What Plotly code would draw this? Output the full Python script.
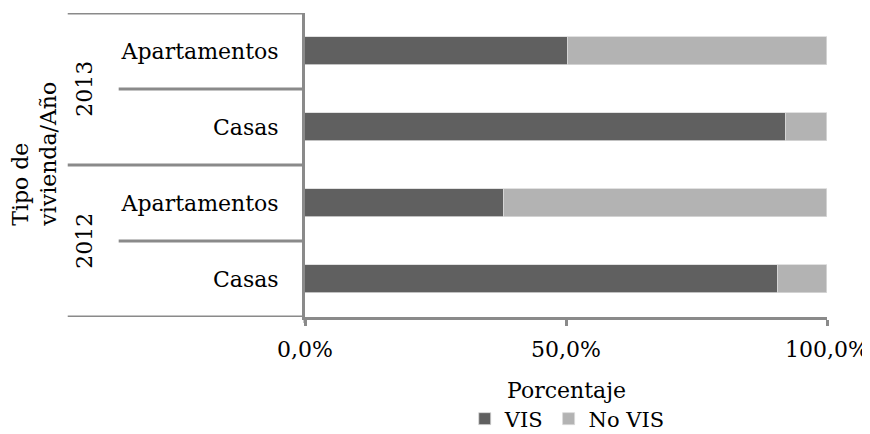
import plotly.graph_objects as go

years = ["2012", "2012", "2013", "2013"]
tipos = ["Casas", "Apartamentos", "Casas", "Apartamentos"]
vis = [0.906, 0.382, 0.922, 0.504]
no_vis = [round(1 - v, 3) for v in vis]
xticks = [0, 0.5, 1.0]

FONT = "DejaVu Serif"
FS = 22
GREY = "#8a8a8a"
pos = list(range(len(tipos)))

fig = go.Figure()
fig.add_trace(go.Bar(y=pos, x=vis, orientation="h", name="VIS",
                     marker=dict(color="#606060", line=dict(color="#d9d9d9", width=0.8)),
                     width=0.38))
fig.add_trace(go.Bar(y=pos, x=no_vis, orientation="h", name="No VIS",
                     marker=dict(color="#b3b3b3", line=dict(color="#d9d9d9", width=0.8)),
                     width=0.38))

OFF = 8  # page body margin
W, H = 870 - OFF, 434 - OFF
ml, mr, mt, mb = 304.5 - OFF, 43, 13 - OFF, H - (317 - OFF)
pw = W - ml - mr
ph = H - mt - mb

def px2paper(px):
    return (px - OFF - ml) / pw

def py2paper(py):
    return (H - mb - (py - OFF)) / ph

shapes = []
for yv, xs in [(3.5, 67), (1.5, 67), (-0.5, 67), (2.5, 118), (0.5, 118)]:
    shapes.append(dict(type="line", xref="paper", yref="y", x0=px2paper(xs), x1=0,
                       y0=yv, y1=yv, line=dict(color=GREY, width=3)))
shapes.append(dict(type="line", xref="paper", yref="paper", x0=0, x1=0,
                   y0=0, y1=py2paper(323), line=dict(color=GREY, width=3)))

annotations = []
uniq_years = sorted(set(years))
for yr in uniq_years:
    idx = [i for i, y in enumerate(years) if y == yr]
    annotations.append(dict(text=yr, xref="paper", yref="y", x=px2paper(83), xanchor="center",
                            y=sum(idx) / len(idx), yanchor="middle", textangle=-90, showarrow=False,
                            font=dict(family=FONT, size=FS, color="#000")))
annotations.append(dict(text="Tipo de<br>vivienda/Año", xref="paper", yref="paper",
                        x=px2paper(34), xanchor="center", y=py2paper(154), yanchor="middle",
                        textangle=-90, showarrow=False, align="left",
                        font=dict(family=FONT, size=FS, color="#000")))
annotations.append(dict(text="Porcentaje", xref="paper", yref="paper",
                        x=px2paper(566), xanchor="center", y=py2paper(390), yanchor="middle",
                        showarrow=False, font=dict(family=FONT, size=FS, color="#000")))

fig.update_layout(
    width=W, height=H, barmode="stack", bargap=0,
    margin=dict(l=ml, r=mr, t=mt, b=mb, autoexpand=False),
    plot_bgcolor="white", paper_bgcolor="white",
    separators=",.",
    font=dict(family=FONT, size=FS, color="#000"),
    showlegend=True,
    legend=dict(orientation="h", x=px2paper(567), xanchor="center", y=py2paper(419), yanchor="middle",
                font=dict(family=FONT, size=21), itemwidth=30, traceorder="normal",
                tracegroupgap=0),
    shapes=shapes, annotations=annotations,
    xaxis=dict(range=[0, 1], tickvals=xticks, tickformat=".1%", showgrid=False,
               zeroline=False, showline=True, linecolor=GREY, linewidth=3,
               ticks="outside", ticklen=6, tickwidth=3, tickcolor=GREY,
               ticklabelstandoff=5, automargin=False, tickfont=dict(size=FS)),
    yaxis=dict(range=[-0.5, 3.5], tickvals=pos, ticktext=tipos, showgrid=False,
               zeroline=False, showline=True, linecolor=GREY, linewidth=3,
               ticks="", ticklabelstandoff=19, automargin=False, tickfont=dict(size=FS)),
)

fig.write_html("out.html")
